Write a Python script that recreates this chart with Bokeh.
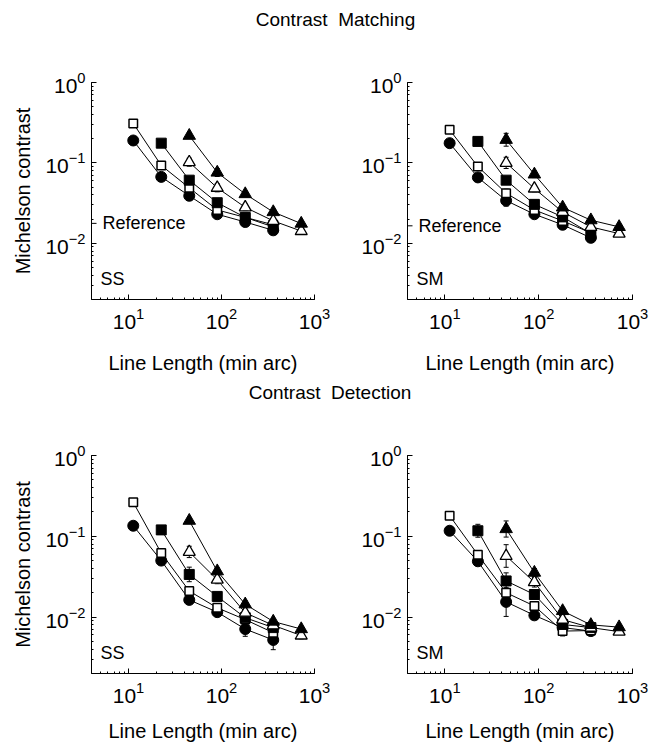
from bokeh.plotting import figure
from bokeh.layouts import column, row
from bokeh.models import Div, Whisker, TeeHead, ColumnDataSource, Range1d, Label
from bokeh.embed import file_html
from bokeh.resources import INLINE

FONT = "Liberation Sans"

# ---------------- data ----------------
X_MIN, X_MAX = 4, 1000
Y_MIN, Y_MAX = 0.002, 1

x_circle = [11.25, 22.5, 45, 90, 180, 360]
x_open_sq = [11.25, 22.5, 45, 90, 180, 360]
x_filled_sq = [22.5, 45, 90, 180, 360]
x_open_tri = [45, 90, 180, 360, 720]
x_filled_tri = [45, 90, 180, 360, 720]

# Contrast matching, SS
cm_ss_circle = [0.19, 0.067, 0.039, 0.023, 0.0184, 0.0145]
cm_ss_open_sq = [0.31, 0.093, 0.049, 0.026, 0.021, 0.017]
cm_ss_filled_sq = [0.176, 0.061, 0.032, 0.021, 0.016]
cm_ss_open_tri = [0.102, 0.049, 0.028, 0.019, 0.0142]
cm_ss_filled_tri = [0.218, 0.076, 0.041, 0.0245, 0.0176]
# Contrast matching, SM
cm_sm_circle = [0.176, 0.066, 0.034, 0.023, 0.017, 0.0117]
cm_sm_open_sq = [0.258, 0.090, 0.042, 0.026, 0.019, 0.0135]
cm_sm_filled_sq = [0.185, 0.061, 0.0305, 0.0213, 0.0132]
cm_sm_open_tri = [0.10, 0.048, 0.0245, 0.016, 0.0132]
cm_sm_filled_tri = [0.194, 0.072, 0.028, 0.0194, 0.016]
# Contrast detection, SS
cd_ss_circle = [0.135, 0.050, 0.0163, 0.0115, 0.0071, 0.0052]
cd_ss_open_sq = [0.263, 0.062, 0.021, 0.013, 0.0093, 0.0064]
cd_ss_filled_sq = [0.12, 0.0337, 0.018, 0.0098, 0.0074]
cd_ss_open_tri = [0.064, 0.029, 0.0113, 0.0079, 0.0059]
cd_ss_filled_tri = [0.156, 0.037, 0.0144, 0.0088, 0.0071]
# Contrast detection, SM
cd_sm_circle = [0.117, 0.049, 0.0154, 0.0105, 0.0074, 0.0067]
cd_sm_open_sq = [0.18, 0.059, 0.020, 0.0137, 0.0067, 0.0068]
cd_sm_filled_sq = [0.117, 0.028, 0.019, 0.0081, 0.0074]
cd_sm_open_tri = [0.057, 0.027, 0.0093, 0.0074, 0.0066]
cd_sm_filled_tri = [0.123, 0.0355, 0.0119, 0.0080, 0.0075]

# error bars (log10 half-width)
cm_ss_circle_err = [0.02, 0.02, 0.03, 0.02, 0.02, 0.02]
cm_ss_open_sq_err = [0.04, 0.05, 0.05, 0.03, 0.03, 0.03]
cm_ss_filled_sq_err = [0.03, 0.03, 0.03, 0.03, 0.03]
cm_ss_open_tri_err = [0.05, 0.05, 0.04, 0.03, 0.03]
cm_ss_filled_tri_err = [0.03, 0.05, 0.03, 0.03, 0.03]
cm_sm_circle_err = [0.02, 0.02, 0.07, 0.02, 0.02, 0.02]
cm_sm_open_sq_err = [0.04, 0.04, 0.05, 0.03, 0.03, 0.03]
cm_sm_filled_sq_err = [0.04, 0.03, 0.04, 0.03, 0.03]
cm_sm_open_tri_err = [0.07, 0.04, 0.04, 0.03, 0.03]
cm_sm_filled_tri_err = [0.08, 0.04, 0.03, 0.03, 0.03]
cd_ss_circle_err = [0.02, 0.04, 0.03, 0.03, 0.09, 0.12]
cd_ss_open_sq_err = [0.03, 0.04, 0.03, 0.03, 0.04, 0.05]
cd_ss_filled_sq_err = [0.04, 0.09, 0.03, 0.04, 0.04]
cd_ss_open_tri_err = [0.07, 0.05, 0.04, 0.04, 0.04]
cd_ss_filled_tri_err = [0.03, 0.04, 0.04, 0.03, 0.03]
cd_sm_circle_err = [0.02, 0.05, 0.18, 0.03, 0.04, 0.04]
cd_sm_open_sq_err = [0.03, 0.04, 0.05, 0.04, 0.06, 0.05]
cd_sm_filled_sq_err = [0.08, 0.10, 0.04, 0.05, 0.04]
cd_sm_open_tri_err = [0.14, 0.06, 0.05, 0.04, 0.03]
cd_sm_filled_tri_err = [0.10, 0.05, 0.04, 0.03, 0.03]

ref_ss = 0.0177
ref_sm = 0.0165

titles = ["Contrast\u00a0\u00a0Matching", "Contrast\u00a0\u00a0Detection"]
x_label = "Line Length (min arc)"
y_label = "Michelson contrast"

# marker styles: (marker, size, fill, line width)
STYLES = {
    "circle": ("circle", 11, "black", 1),
    "open_sq": ("square", 8.5, "white", 1.5),
    "filled_sq": ("square", 10, "black", 1),
    "open_tri": ("triangle", 12, "white", 1.3),
    "filled_tri": ("triangle", 12.5, "black", 1),
}
XS = {"circle": x_circle, "open_sq": x_open_sq, "filled_sq": x_filled_sq,
      "open_tri": x_open_tri, "filled_tri": x_filled_tri}
ORDER = ["circle", "open_sq", "filled_sq", "open_tri", "filled_tri"]


def make_panel(vals, errs, tag, ref, ylabel, width, height, bl, br, bt, bb,
               tick_standoff, lab_standoff):
    p = figure(width=width, height=height, x_axis_type="log", y_axis_type="log",
               x_range=Range1d(X_MIN, X_MAX), y_range=Range1d(Y_MIN, Y_MAX),
               output_backend="svg", toolbar_location=None,
               min_border_left=bl, min_border_right=br, min_border_top=bt,
               min_border_bottom=bb, x_axis_label=x_label,
               y_axis_label=ylabel)
    p.outline_line_color = None
    p.grid.visible = False
    for ax in (p.xaxis[0], p.yaxis[0]):
        ax.axis_line_color = "black"
        ax.axis_line_width = 1
        ax.major_tick_in = 5
        ax.major_tick_out = 0
        ax.minor_tick_in = 2
        ax.minor_tick_out = 0
        ax.major_tick_line_color = "black"
        ax.minor_tick_line_color = "black"
        ax.major_label_text_font = FONT
        ax.major_label_text_font_size = "21px"
        ax.major_label_text_color = "black"
        ax.axis_label_text_font = FONT
        ax.axis_label_text_font_size = "20px"
        ax.axis_label_text_font_style = "normal"
        ax.axis_label_text_color = "black"
    p.xaxis[0].major_label_standoff = tick_standoff
    p.xaxis[0].axis_label_standoff = lab_standoff
    p.yaxis[0].major_label_standoff = 6
    p.yaxis[0].axis_label_standoff = 8

    for key in ORDER:
        xs = XS[key]
        ys = vals[key]
        er = errs[key]
        src = ColumnDataSource(dict(
            x=xs, y=ys,
            upper=[v * 10 ** e for v, e in zip(ys, er)],
            lower=[v / 10 ** e for v, e in zip(ys, er)]))
        w = Whisker(base="x", upper="upper", lower="lower", source=src,
                    line_color="black", line_width=1,
                    upper_head=TeeHead(size=5, line_color="black"),
                    lower_head=TeeHead(size=5, line_color="black"))
        p.add_layout(w)
        p.line("x", "y", source=src, line_color="black", line_width=1)
    for key in ORDER:
        marker, size, fill, lw = STYLES[key]
        src = ColumnDataSource(dict(x=XS[key], y=vals[key]))
        p.scatter("x", "y", source=src, marker=marker, size=size,
                  fill_color=fill, line_color="black", line_width=lw)

    if ref is not None:
        p.ray(x=[X_MIN], y=[ref], length=5, length_units="screen", angle=0,
              line_color="black", line_width=1)
        p.add_layout(Label(x=11, y=ref, x_units="screen", y_units="data",
                           text="Reference", text_baseline="middle",
                           text_font=FONT, text_font_size="18px",
                           text_color="black"))
    p.add_layout(Label(x=9, y=21, x_units="screen", y_units="screen",
                       text=tag, text_baseline="middle", text_font=FONT,
                       text_font_size="18px", text_color="black"))
    return p


def series(c, osq, fsq, otri, ftri):
    return {"circle": c, "open_sq": osq, "filled_sq": fsq,
            "open_tri": otri, "filled_tri": ftri}


cm_ss = series(cm_ss_circle, cm_ss_open_sq, cm_ss_filled_sq, cm_ss_open_tri, cm_ss_filled_tri)
cm_ss_e = series(cm_ss_circle_err, cm_ss_open_sq_err, cm_ss_filled_sq_err, cm_ss_open_tri_err, cm_ss_filled_tri_err)
cm_sm = series(cm_sm_circle, cm_sm_open_sq, cm_sm_filled_sq, cm_sm_open_tri, cm_sm_filled_tri)
cm_sm_e = series(cm_sm_circle_err, cm_sm_open_sq_err, cm_sm_filled_sq_err, cm_sm_open_tri_err, cm_sm_filled_tri_err)
cd_ss = series(cd_ss_circle, cd_ss_open_sq, cd_ss_filled_sq, cd_ss_open_tri, cd_ss_filled_tri)
cd_ss_e = series(cd_ss_circle_err, cd_ss_open_sq_err, cd_ss_filled_sq_err, cd_ss_open_tri_err, cd_ss_filled_tri_err)
cd_sm = series(cd_sm_circle, cd_sm_open_sq, cd_sm_filled_sq, cd_sm_open_tri, cd_sm_filled_tri)
cd_sm_e = series(cd_sm_circle_err, cd_sm_open_sq_err, cd_sm_filled_sq_err, cd_sm_open_tri_err, cd_sm_filled_tri_err)

# row 1: top 48, frame 82-299 ; row 2: top 425, frame 455-674
p_tl = make_panel(cm_ss, cm_ss_e, "SS", ref_ss, y_label, 330, 330, 91, 16, 34, 79, 8, 20)
p_tr = make_panel(cm_sm, cm_sm_e, "SM", ref_sm, None, 321, 330, 77, 19, 34, 79, 8, 20)
p_bl = make_panel(cd_ss, cd_ss_e, "SS", None, y_label, 330, 319, 91, 16, 30, 70, 8, 14)
p_br = make_panel(cd_sm, cd_sm_e, "SM", None, None, 321, 319, 77, 19, 30, 70, 8, 14)


def title_div(txt, h, pad_top, pad_left):
    return Div(text=txt, width=651, height=h, margin=0,
               styles={"text-align": "center", "font-family": FONT + ", Arial, sans-serif",
                       "font-size": "19px", "line-height": "24px", "color": "black",
                       "padding-top": f"{pad_top}px", "padding-left": f"{pad_left}px",
                       "box-sizing": "border-box", "width": "651px"})


div1 = title_div(titles[0], 48, 8, 20)
div2 = title_div(titles[1], 47, 3, 9)

layout = column(div1, row(p_tl, p_tr), div2, row(p_bl, p_br))

open("out.html", "w").write(file_html(layout, INLINE, title="Contrast"))
